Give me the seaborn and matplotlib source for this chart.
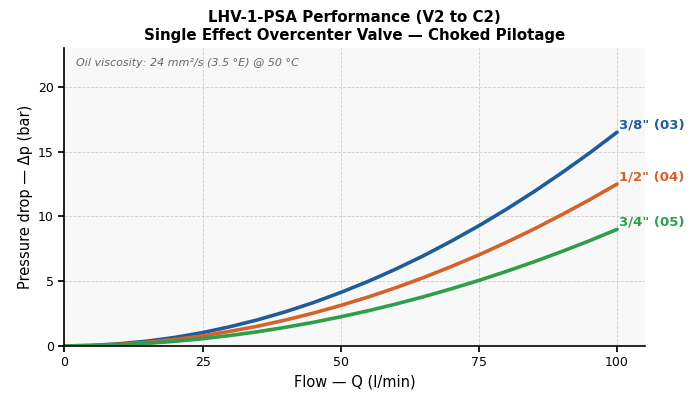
import numpy as np
import pandas as pd
import matplotlib
matplotlib.use("Agg")
import matplotlib.pyplot as plt
import seaborn as sns

# flow (l/min) and pressure drop (bar)
flow = [0, 5, 10, 15, 20, 25, 30, 35, 40, 45, 50,
        55, 60, 65, 70, 75, 80, 85, 90, 95, 100]
dp_038 = [0, 0.04, 0.17, 0.37, 0.66, 1.03, 1.49, 2.02, 2.64, 3.34, 4.13,
          4.99, 5.94, 6.97, 8.09, 9.28, 10.56, 11.92, 13.37, 14.89, 16.5]
dp_012 = [0, 0.03, 0.13, 0.28, 0.5, 0.78, 1.13, 1.53, 2.0, 2.53, 3.13,
          3.78, 4.5, 5.28, 6.13, 7.03, 8.0, 9.03, 10.13, 11.28, 12.5]
dp_034 = [0, 0.02, 0.09, 0.2, 0.36, 0.56, 0.81, 1.1, 1.44, 1.82, 2.25,
          2.72, 3.24, 3.8, 4.41, 5.06, 5.76, 6.5, 7.29, 8.12, 9.0]

sizes = ['3/8" (03)', '1/2" (04)', '3/4" (05)']
colors = ['#1f5c99', '#d4622a', '#2e9e48']

rows = []
for name, vals in zip(sizes, [dp_038, dp_012, dp_034]):
    for q, p in zip(flow, vals):
        rows.append({"Q": q, "dp": p, "size": name})
df = pd.DataFrame(rows)

sns.set_theme(style="whitegrid")
plt.rcParams['font.family'] = ['DejaVu Sans']
plt.rcParams['text.color'] = 'black'
plt.rcParams['axes.labelcolor'] = 'black'
plt.rcParams['xtick.color'] = 'black'
plt.rcParams['ytick.color'] = 'black'

fig, ax = plt.subplots(figsize=(7, 4.07), dpi=100)
ax.set_facecolor('#f8f8f8')

sns.lineplot(data=df, x="Q", y="dp", hue="size", palette=colors,
             linewidth=2.6, legend=False, ax=ax)

for name, vals, c in zip(sizes, [dp_038, dp_012, dp_034], colors):
    ax.text(flow[-1] + 0.4, vals[-1] + 0.05, name, color=c, fontsize=9.5,
            fontweight='bold', ha='left', va='bottom', clip_on=False)

ax.text(0.02, 0.965, "Oil viscosity: 24 mm²/s (3.5 °E) @ 50 °C",
        transform=ax.transAxes, fontsize=8, style='italic', color='#666666',
        ha='left', va='top')

ax.set_xlim(0, 105)
ax.set_ylim(0, 23)
ax.set_xticks([0, 25, 50, 75, 100])
ax.set_yticks([0, 5, 10, 15, 20])
ax.grid(True, ls='--', lw=0.6, color='#cccccc')
for s in ['top', 'right']:
    ax.spines[s].set_visible(False)
for s in ['left', 'bottom']:
    ax.spines[s].set_color('black')
    ax.spines[s].set_linewidth(1.2)
ax.tick_params(axis='both', labelsize=9, length=4, color='black',
               bottom=True, left=True)

ax.set_xlabel("Flow — Q (l/min)", fontsize=10.5)
ax.set_ylabel("Pressure drop — Δp (bar)", fontsize=10.5)
ax.set_title("LHV-1-PSA Performance (V2 to C2)\nSingle Effect Overcenter Valve — Choked Pilotage",
             fontsize=10.8, fontweight='bold', color='black')

fig.subplots_adjust(left=0.092, right=0.921, top=0.882, bottom=0.15)
fig.savefig("out.png", dpi=100)
